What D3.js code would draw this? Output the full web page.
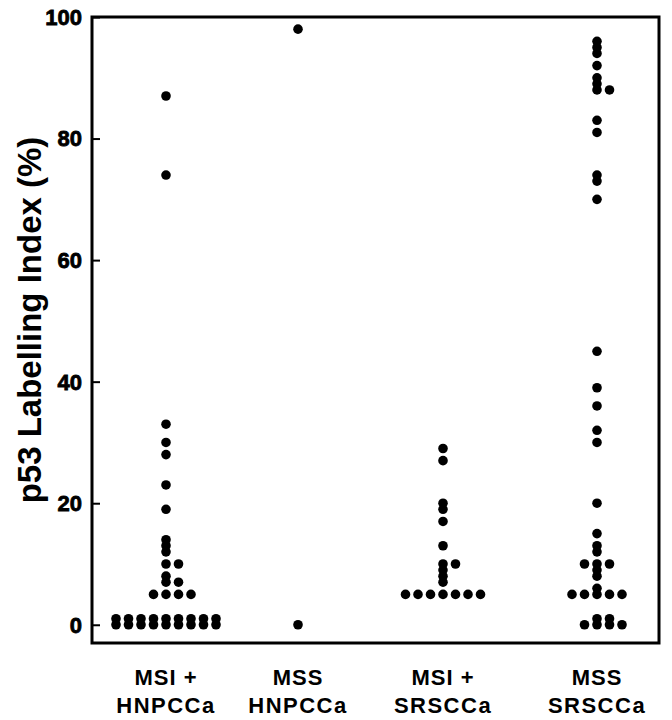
<!DOCTYPE html>
<html>
<head>
<meta charset="utf-8">
<script src="https://cdn.jsdelivr.net/npm/d3@7"></script>
<style>
  body { margin: 0; background: #fff; }
  text { font-family: "Liberation Sans", Arial, Helvetica, sans-serif; fill: #000; }
</style>
</head>
<body>
<div id="chart"></div>
<script>
var width = 672;
var height = 720;

// data
var categories = ['MSI + HNPCCa', 'MSS HNPCCa', 'MSI + SRSCCa', 'MSS SRSCCa'];
var labelTop = ['MSI +', 'MSS', 'MSI +', 'MSS'];
var labelBottom = ['HNPCCa', 'HNPCCa', 'SRSCCa', 'SRSCCa'];
var yTicks = [0, 20, 40, 60, 80, 100];

var msiHnpcc = [87, 74, 33, 30, 28, 23, 19, 14, 13, 12, 10, 10, 8, 7, 7, 5, 5, 5, 5,
  1, 1, 1, 1, 1, 1, 1, 1, 1, 0, 0, 0, 0, 0, 0, 0, 0, 0];
var mssHnpcc = [98, 0];
var msiSrscc = [29, 27, 20, 19, 17, 13, 10, 10, 9, 8, 7, 5, 5, 5, 5, 5, 5, 5];
var mssSrscc = [96, 95, 94, 92, 90, 89, 88, 88, 83, 81, 74, 73, 70, 45, 39, 36, 32, 30,
  20, 15, 13, 12, 10, 10, 10, 9, 8, 6, 5, 5, 5, 5, 5, 1, 1, 0, 0, 0, 0];

var groups = [msiHnpcc, mssHnpcc, msiSrscc, mssSrscc];

var box = { left: 92, right: 659, top: 17, bottom: 643 };
var dotR = 4.8;
var dotStep = 12.5;

var svg = d3.select('#chart').append('svg')
  .attr('width', width)
  .attr('height', height);

var y = d3.scaleLinear().domain([-3, 100]).range([box.bottom, box.top]);
var x = d3.scaleOrdinal().domain(categories).range([166, 298, 443, 597]);

// frame
svg.append('rect')
  .attr('x', box.left).attr('y', box.top)
  .attr('width', box.right - box.left)
  .attr('height', box.bottom - box.top)
  .attr('fill', 'none')
  .attr('stroke', '#000')
  .attr('stroke-width', 3);

// y axis, ticks pointing inwards
var yAxis = d3.axisRight(y).tickValues(yTicks).tickSize(8).tickFormat('');
var yg = svg.append('g')
  .attr('transform', 'translate(' + box.left + ',0)')
  .call(yAxis);
yg.select('.domain').remove();
yg.selectAll('.tick line').attr('stroke', '#000').attr('stroke-width', 2);

svg.selectAll('.ylab').data(yTicks).enter().append('text')
  .attr('class', 'ylab')
  .attr('x', 82)
  .attr('y', function (d) { return y(d); })
  .attr('dy', '0.36em')
  .attr('text-anchor', 'end')
  .attr('font-size', 22)
  .attr('font-weight', 'bold')
  .attr('stroke', '#000')
  .attr('stroke-width', 0.8)
  .text(function (d) { return d; });

svg.append('text')
  .attr('transform', 'translate(41,' + 320 + ') rotate(-90)')
  .attr('text-anchor', 'middle')
  .attr('font-size', 33)
  .attr('font-weight', 'bold')
  .text('p53 Labelling Index (%)');

// category labels
svg.selectAll('.xtop').data(categories).enter().append('text')
  .attr('class', 'xtop')
  .attr('x', function (d) { return x(d); })
  .attr('y', 685)
  .attr('text-anchor', 'middle')
  .attr('font-size', 22)
  .attr('font-weight', 'bold')
  .attr('letter-spacing', 1)
  .text(function (d, i) { return labelTop[i]; });

svg.selectAll('.xbot').data(categories).enter().append('text')
  .attr('class', 'xbot')
  .attr('x', function (d) { return x(d); })
  .attr('y', 713)
  .attr('text-anchor', 'middle')
  .attr('font-size', 22)
  .attr('font-weight', 'bold')
  .attr('letter-spacing', 1.5)
  .text(function (d, i) { return labelBottom[i]; });

// dot layout: equal values spread sideways, centre first then right/left
var slotOrder = [0, 1, -1, 2, -2, 3, -3, 4, -4, 5, -5];
var points = [];
groups.forEach(function (vals, gi) {
  var used = {};
  vals.slice().sort(function (a, b) { return b - a; }).forEach(function (v) {
    used[v] = used[v] || 0;
    points.push({ cat: categories[gi], value: v, slot: slotOrder[used[v]] });
    used[v] += 1;
  });
});

svg.selectAll('.dot').data(points).enter().append('circle')
  .attr('class', 'dot')
  .attr('cx', function (d) { return x(d.cat) + d.slot * dotStep; })
  .attr('cy', function (d) { return y(d.value); })
  .attr('r', dotR)
  .attr('fill', '#000');
</script>
</body>
</html>
